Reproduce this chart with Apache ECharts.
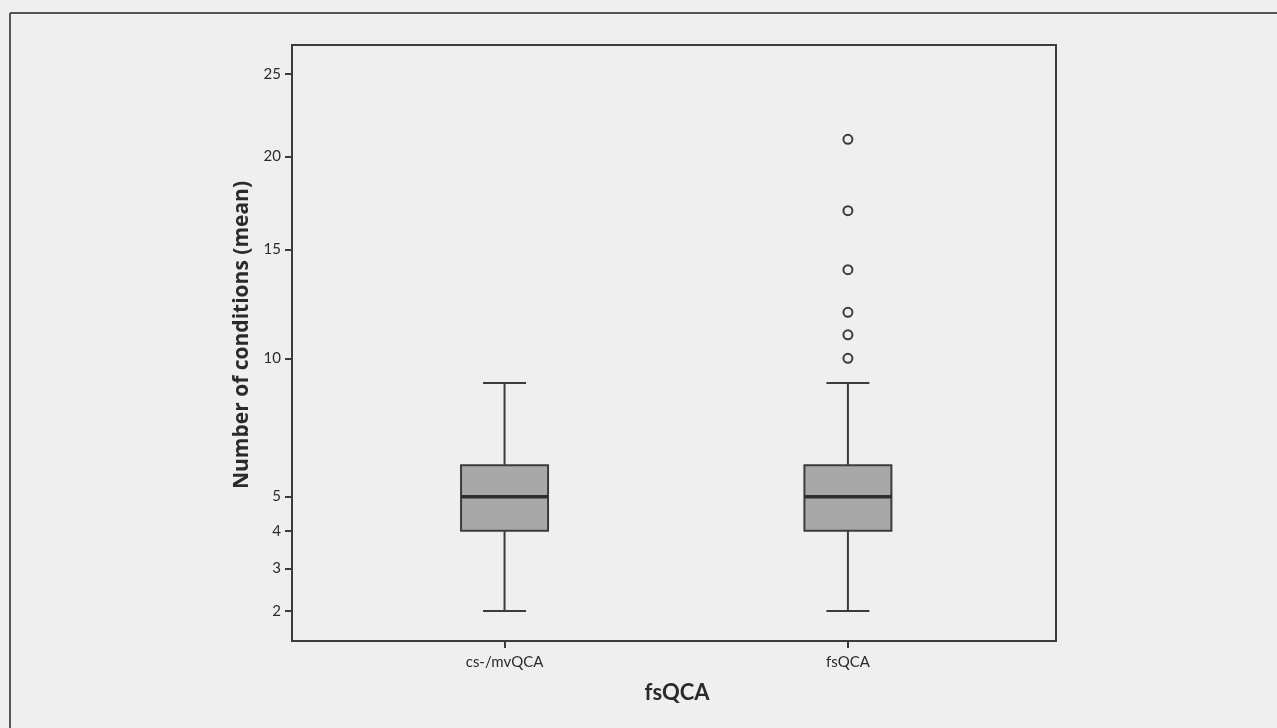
<!DOCTYPE html>
<html>
<head>
<meta charset="utf-8">
<script src="https://cdn.jsdelivr.net/npm/echarts@6/dist/echarts.min.js"></script>
<style>
html,body{margin:0;padding:0;background:#efefef;}
#chart{width:1277px;height:728px;}
</style>
</head>
<body>
<div id="chart"></div>
<script>
// ---- data ----
const categories = ['cs-/mvQCA', 'fsQCA'];
const whiskerLow = [2, 2];
const quartile1 = [4, 4];
const medians = [5, 5];
const quartile3 = [6, 6];
const whiskerHigh = [9, 9];
const outliersCsMv = [];
const outliersFs = [10, 11, 12, 14, 17, 21];
const yTickValues = [2, 3, 4, 5, 10, 15, 20, 25];
const yRange = [1.384, 26.9];

// axis scale transform of the original figure (square-root type)
const tf = v => Math.sqrt(v + 1);
const inv = t => t * t - 1;

const boxData = categories.map((c, i) => [
  i + 1, tf(whiskerLow[i]), tf(quartile1[i]), tf(medians[i]), tf(quartile3[i]), tf(whiskerHigh[i])
]);
const outlierData = [];
[outliersCsMv, outliersFs].forEach((arr, i) => arr.forEach(v => outlierData.push([i + 1, tf(v)])));

const dark = '#3c3c3c';
const fontFam = 'Lato, "Open Sans", sans-serif';

const chart = echarts.init(document.getElementById('chart'), null, {renderer: 'canvas'});
chart.setOption({
  animation: false,
  backgroundColor: '#efefef',
  grid: {left: 292, top: 45, right: 221, bottom: 87, show: true, borderColor: dark, borderWidth: 2, backgroundColor: 'transparent'},
  xAxis: {
    type: 'value', min: 0.381, max: 2.606,
    name: 'fsQCA', nameLocation: 'middle', nameGap: 41,
    nameTextStyle: {fontFamily: fontFam, fontWeight: 'bold', fontSize: 22, color: '#2a2a2a', padding: [0, 0, 0, 6]},
    axisLine: {show: true, lineStyle: {color: dark, width: 2}},
    axisTick: {show: true, customValues: [1, 2], length: 7, lineStyle: {color: dark, width: 2}},
    axisLabel: {customValues: [1, 2], formatter: v => categories[Math.round(v) - 1] || '', margin: 14,
      fontFamily: fontFam, fontSize: 15, color: '#2a2a2a'},
    splitLine: {show: false}
  },
  yAxis: {
    type: 'value', min: tf(yRange[0]), max: tf(yRange[1]),
    name: 'Number of conditions (mean)', nameLocation: 'middle', nameGap: 37,
    nameTextStyle: {fontFamily: '"Open Sans", Lato, sans-serif', fontWeight: 'bold', fontSize: 21, color: '#2a2a2a', padding: [0, 0, 0, 16]},
    axisLine: {show: true, lineStyle: {color: dark, width: 2}},
    axisTick: {show: true, customValues: yTickValues.map(tf), length: 7, lineStyle: {color: dark, width: 2}},
    axisLabel: {customValues: yTickValues.map(tf), formatter: v => String(Math.round(inv(v))), margin: 11,
      fontFamily: fontFam, fontSize: 15, color: '#2a2a2a'},
    splitLine: {show: false}
  },
  series: [
    {
      type: 'custom',
      data: boxData,
      encode: {x: 0, y: [1, 2, 3, 4, 5]},
      renderItem: function (params, api) {
        const x = api.value(0);
        const pLow = api.coord([x, api.value(1)]);
        const pQ1 = api.coord([x, api.value(2)]);
        const pMed = api.coord([x, api.value(3)]);
        const pQ3 = api.coord([x, api.value(4)]);
        const pHigh = api.coord([x, api.value(5)]);
        const hb = 43.5, hc = 21.5;
        const ls = {stroke: dark, lineWidth: 2};
        return {
          type: 'group',
          children: [
            {type: 'line', shape: {x1: pLow[0], y1: pLow[1], x2: pQ1[0], y2: pQ1[1]}, style: ls},
            {type: 'line', shape: {x1: pQ3[0], y1: pQ3[1], x2: pHigh[0], y2: pHigh[1]}, style: ls},
            {type: 'line', shape: {x1: pLow[0] - hc, y1: pLow[1], x2: pLow[0] + hc, y2: pLow[1]}, style: ls},
            {type: 'line', shape: {x1: pHigh[0] - hc, y1: pHigh[1], x2: pHigh[0] + hc, y2: pHigh[1]}, style: ls},
            {type: 'rect', shape: {x: pQ3[0] - hb, y: pQ3[1], width: hb * 2, height: pQ1[1] - pQ3[1]},
              style: {fill: '#a8a8a8', stroke: dark, lineWidth: 2}},
            {type: 'line', shape: {x1: pMed[0] - hb, y1: pMed[1], x2: pMed[0] + hb, y2: pMed[1]},
              style: {stroke: '#2e2e2e', lineWidth: 3.5}}
          ]
        };
      }
    },
    {
      type: 'scatter',
      data: outlierData,
      symbol: 'circle',
      symbolSize: 9,
      itemStyle: {color: '#efefef', borderColor: dark, borderWidth: 2, opacity: 1}
    }
  ],
  graphic: [
    {type: 'line', shape: {x1: 10, y1: 13, x2: 10, y2: 728}, style: {stroke: '#555', lineWidth: 2}},
    {type: 'line', shape: {x1: 10, y1: 13, x2: 1277, y2: 13}, style: {stroke: '#555', lineWidth: 2}}
  ]
});
</script>
</body>
</html>
